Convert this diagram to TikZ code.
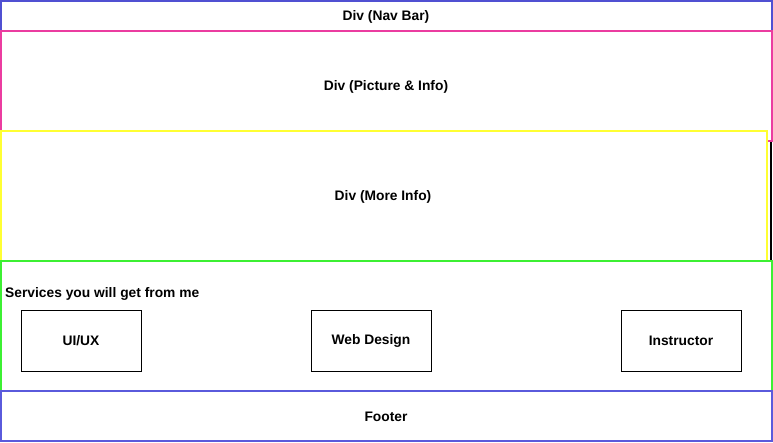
\documentclass[tikz,border=0pt]{standalone}
\usepackage{fontspec}
\setmainfont{Liberation Sans}
\definecolor{navblue}{RGB}{80,80,210}
\definecolor{pinkc}{RGB}{235,60,160}
\definecolor{yellowc}{RGB}{255,255,50}
\definecolor{greenc}{RGB}{60,240,50}
\definecolor{footblue}{RGB}{90,90,220}
\begin{document}
\begin{tikzpicture}[x=1pt,y=-1pt,
  lbl/.style={font=\fontsize{13.8}{16}\selectfont\bfseries, inner sep=0pt},
  region/.style={line width=2pt, fill=white},
  svc/.style={draw=black, line width=1pt, minimum width=120pt, minimum height=60pt, font=\fontsize{13.8}{16}\selectfont\bfseries, inner sep=0pt}]
\useasboundingbox[fill=white] (0,0) rectangle (773,443);
% black right edge
\draw[line width=2pt, black] (771,141) -- (771,262);
% regions
\draw[region, draw=navblue] (1,1) rectangle (772,31);
\draw[region, draw=pinkc] (1,31) rectangle (772,141);
\draw[region, draw=yellowc] (1,131) rectangle (767,261);
\draw[region, draw=greenc] (1,261) rectangle (772,391);
\draw[region, draw=footblue] (1,391) rectangle (772,441);
% labels
\node[lbl] (nav) at (386,17) {Div (Nav Bar)};
\node[lbl] (pic) at (386,87) {Div (Picture \& Info)};
\node[lbl] (more) at (383,197) {Div (More Info)};
\node[lbl, anchor=west] (svct) at (5,294) {Services you will get from me};
\node[lbl] (foot) at (386,417) {Footer};
% service boxes
\node[svc] (uiux) at (81,341) {\raisebox{-1pt}{UI/UX}};
\node[svc] (web) at (371,341) {\raisebox{-1pt}{Web Design}};
\node[svc] (inst) at (681,341) {\raisebox{-1pt}{Instructor}};
\end{tikzpicture}
\end{document}
